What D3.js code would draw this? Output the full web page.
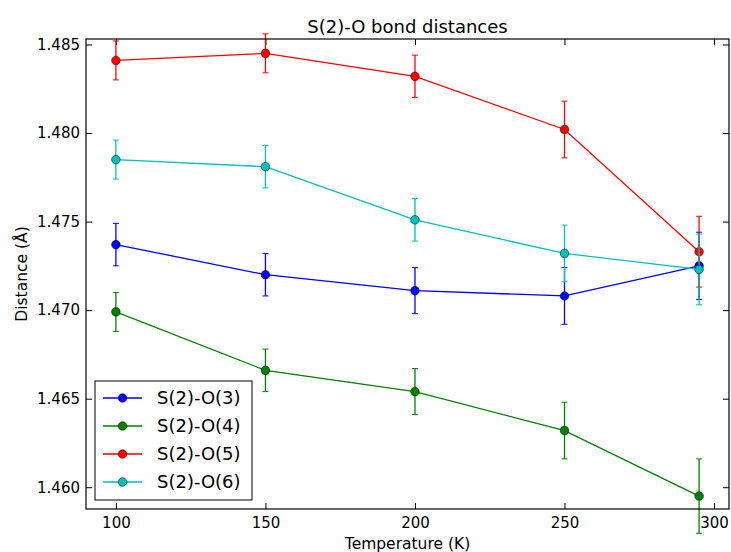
<!DOCTYPE html>
<html>
<head>
<meta charset="utf-8">
<script src="https://cdn.jsdelivr.net/npm/d3@7"></script>
<style>
  body { margin: 0; background: #fff; }
  text { font-family: "DejaVu Sans", sans-serif; fill: #000; }
</style>
</head>
<body>
<div id="chart"></div>
<script>
// temperatures (K) and bond distances (A)
var temps = [100, 150, 200, 250, 295];

var names = ["S(2)-O(3)", "S(2)-O(4)", "S(2)-O(5)", "S(2)-O(6)"];
var colors = ["#0000ff", "#008000", "#ff0000", "#00bfbf"];

var o3 = [1.4737, 1.4720, 1.4711, 1.4708, 1.4725];
var o3_err = [0.0012, 0.0012, 0.0013, 0.0016, 0.0019];

var o4 = [1.4699, 1.4666, 1.4654, 1.4632, 1.4595];
var o4_err = [0.0011, 0.0012, 0.0013, 0.0016, 0.0021];

var o5 = [1.4841, 1.4845, 1.4832, 1.4802, 1.4733];
var o5_err = [0.0011, 0.0011, 0.0012, 0.0016, 0.0020];

var o6 = [1.4785, 1.4781, 1.4751, 1.4732, 1.4723];
var o6_err = [0.0011, 0.0012, 0.0012, 0.0016, 0.0020];

var x_ticks = [100, 150, 200, 250, 300];
var y_ticks = [1.460, 1.465, 1.470, 1.475, 1.480, 1.485];

var values = [o3, o4, o5, o6];
var errors = [o3_err, o4_err, o5_err, o6_err];

var width = 731, height = 552;
var left = 86, right = 729, top_border = 39, bottom = 509;

var svg = d3.select("#chart")
            .append("svg")
            .attr("width", width)
            .attr("height", height);

var x = d3.scaleLinear().domain([90, 305]).range([left, right]);
var y = d3.scaleLinear().domain([1.45877, 1.48531]).range([bottom, top_border]);

// ticks point inwards on all four sides, labels only bottom / left
function style_axis(g) {
  g.select(".domain").remove();
  g.selectAll(".tick line").attr("stroke", "#000").attr("stroke-width", 1);
  g.selectAll("text").style("font-family", "DejaVu Sans").attr("fill", "#000");
}

svg.append("g")
   .attr("transform", "translate(0," + bottom + ")")
   .call(d3.axisBottom(x).tickValues(x_ticks).tickSize(-6).tickPadding(8).tickFormat(d3.format("d")))
   .call(style_axis)
   .selectAll("text").style("font-size", "15px");

svg.append("g")
   .attr("transform", "translate(0," + top_border + ")")
   .call(d3.axisTop(x).tickValues(x_ticks).tickSize(-6).tickFormat(""))
   .call(style_axis);

svg.append("g")
   .attr("transform", "translate(" + left + ",0)")
   .call(d3.axisLeft(y).tickValues(y_ticks).tickSize(-6).tickPadding(6).tickFormat(d3.format(".3f")))
   .call(style_axis)
   .selectAll("text").style("font-size", "15px");

svg.append("g")
   .attr("transform", "translate(" + right + ",0)")
   .call(d3.axisRight(y).tickValues(y_ticks).tickSize(-6).tickFormat(""))
   .call(style_axis);

var line = d3.line()
   .x(function(d) { return x(d[0]); })
   .y(function(d) { return y(d[1]); });

var plot = svg.append("g");

values.forEach(function(vals, i) {
  var pts = temps.map(function(t, j) { return [t, vals[j], errors[i][j]]; });
  var g = plot.append("g");

  g.append("path")
   .datum(pts)
   .attr("d", line)
   .attr("fill", "none")
   .attr("stroke", colors[i])
   .attr("stroke-width", 1.3);

  // error bars
  g.selectAll("line.err")
   .data(pts)
   .enter()
   .append("line")
   .attr("x1", function(d) { return x(d[0]); })
   .attr("x2", function(d) { return x(d[0]); })
   .attr("y1", function(d) { return y(d[1] - d[2]); })
   .attr("y2", function(d) { return y(d[1] + d[2]); })
   .attr("stroke", colors[i])
   .attr("stroke-width", 1.3);

  [-1, 1].forEach(function(s) {
    g.selectAll("line.cap" + s)
     .data(pts)
     .enter()
     .append("line")
     .attr("x1", function(d) { return x(d[0]) - 3; })
     .attr("x2", function(d) { return x(d[0]) + 3; })
     .attr("y1", function(d) { return y(d[1] + s * d[2]); })
     .attr("y2", function(d) { return y(d[1] + s * d[2]); })
     .attr("stroke", colors[i])
     .attr("stroke-width", 1);
  });

  g.selectAll("circle")
   .data(pts)
   .enter()
   .append("circle")
   .attr("cx", function(d) { return x(d[0]); })
   .attr("cy", function(d) { return y(d[1]); })
   .attr("r", 4.3)
   .attr("fill", colors[i])
   .attr("stroke", "#000")
   .attr("stroke-width", 0.5);
});

// frame
svg.append("rect")
   .attr("x", left)
   .attr("y", top_border)
   .attr("width", right - left)
   .attr("height", bottom - top_border)
   .attr("fill", "none")
   .attr("stroke", "#000")
   .attr("stroke-width", 1.2);

// title and axis labels
svg.append("text")
   .attr("x", (left + right) / 2)
   .attr("y", 33)
   .attr("text-anchor", "middle")
   .style("font-size", "18px")
   .text("S(2)-O bond distances");

svg.append("text")
   .attr("x", (left + right) / 2)
   .attr("y", 549)
   .attr("text-anchor", "middle")
   .style("font-size", "15.5px")
   .text("Temperature (K)");

svg.append("text")
   .attr("transform", "translate(27," + (top_border + bottom) / 2 + ") rotate(-90)")
   .attr("text-anchor", "middle")
   .style("font-size", "15.5px")
   .text("Distance (Å)");

// legend
var legend = svg.append("g");

legend.append("rect")
   .attr("x", 95)
   .attr("y", 381)
   .attr("width", 157)
   .attr("height", 119)
   .attr("fill", "#fff")
   .attr("stroke", "#000")
   .attr("stroke-width", 1);

var rows = legend.selectAll("g.row")
   .data(names)
   .enter()
   .append("g")
   .attr("transform", function(d, i) { return "translate(0," + (398 + i * 28) + ")"; });

rows.append("line")
   .attr("x1", 103).attr("x2", 142)
   .attr("stroke", function(d, i) { return colors[i]; })
   .attr("stroke-width", 1.3);

rows.append("circle")
   .attr("cx", 122.5)
   .attr("r", 4.3)
   .attr("fill", function(d, i) { return colors[i]; })
   .attr("stroke", "#000")
   .attr("stroke-width", 0.5);

rows.append("text")
   .attr("x", 157)
   .attr("dy", "0.35em")
   .style("font-size", "18px")
   .text(function(d) { return d; });
</script>
</body>
</html>
